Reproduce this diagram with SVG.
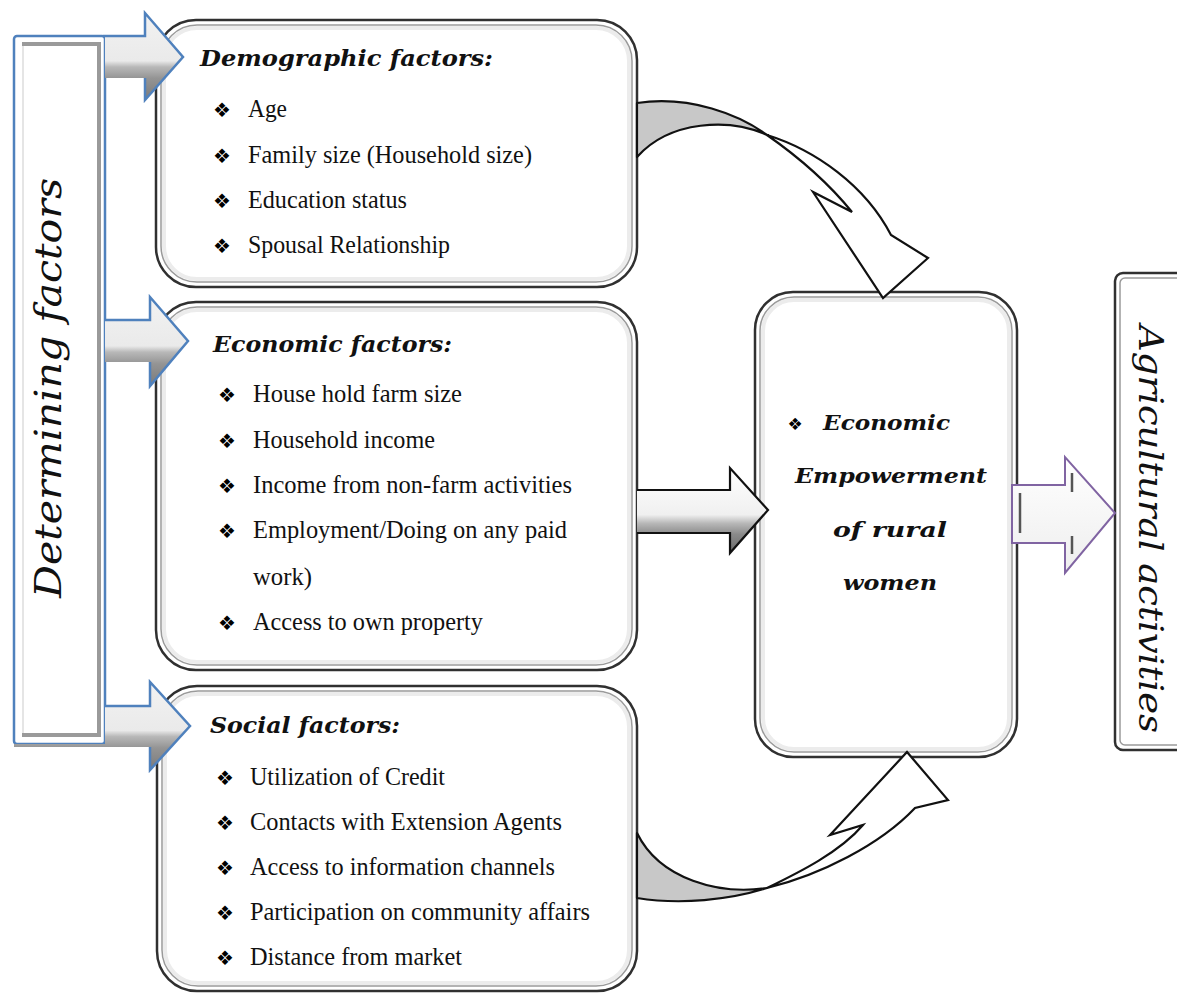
<svg xmlns="http://www.w3.org/2000/svg" width="1177" height="995" viewBox="0 0 1177 995">
<defs>
<style>
.box{fill:#fff;stroke:#303030;stroke-width:2.5}
.inner{fill:none;stroke:#9a9a9a;stroke-width:1.5}
.glow{fill:none;stroke:#ececec;stroke-width:4}
.item{font-family:"Liberation Serif",serif;font-size:25px;fill:#111}
.bul{font-family:"DejaVu Sans",sans-serif;font-size:20px;fill:#000;text-anchor:middle}
.head{font-family:"DejaVu Serif",serif;font-style:italic;font-weight:bold;font-size:23px;fill:#111}
.ctr{font-family:"DejaVu Serif",serif;font-style:italic;font-weight:bold;font-size:21px;fill:#111}
.blue{fill:none;stroke:#4f81bd;stroke-width:2.5;stroke-linejoin:miter}
</style>
<linearGradient id="gSilver" x1="0" y1="0" x2="0" y2="1">
<stop offset="0" stop-color="#f2f2f2"/>
<stop offset="0.55" stop-color="#eaeaea"/>
<stop offset="0.62" stop-color="#b8b8b8"/>
<stop offset="0.75" stop-color="#949494"/>
<stop offset="1" stop-color="#7a7a7a"/>
</linearGradient>
<linearGradient id="gGray" x1="0" y1="0" x2="0" y2="1">
<stop offset="0" stop-color="#ffffff"/>
<stop offset="0.55" stop-color="#f0f0f0"/>
<stop offset="0.65" stop-color="#b8b8b8"/>
<stop offset="0.78" stop-color="#8a8a8a"/>
<stop offset="1" stop-color="#6a6a6a"/>
</linearGradient>
<linearGradient id="gLight" x1="0" y1="0" x2="0" y2="1">
<stop offset="0" stop-color="#ffffff"/>
<stop offset="1" stop-color="#eeeeee"/>
</linearGradient>
</defs>
<rect width="1177" height="995" fill="#fff"/>

<g id="determining-factors">
<rect x="14" y="36" width="91" height="708" rx="3" fill="#fff" stroke="#4f81bd" stroke-width="2.5"/>
<path d="M22,44 H99 V735 H22" fill="none" stroke="#9a9a9a" stroke-width="4"/>
<line x1="23" y1="46" x2="23" y2="733" stroke="#dcdcdc" stroke-width="1.5"/>
<text transform="translate(61,388) rotate(-90)" text-anchor="middle" font-family="DejaVu Serif" font-style="italic" font-size="38" fill="#111" textLength="420" lengthAdjust="spacingAndGlyphs">Determining factors</text>
</g>

<g id="demographic-factors">
<rect class="box" x="156" y="20" width="481" height="267" rx="40"/>
<rect class="glow" x="164" y="28" width="465" height="251" rx="33"/>
<rect class="inner" x="161" y="25" width="471" height="257" rx="36"/>
<text class="head" x="200" y="66" textLength="293" lengthAdjust="spacingAndGlyphs">Demographic factors:</text>
<text class="bul" x="222" y="117">❖</text>
<text class="item" x="248" y="117" textLength="39" lengthAdjust="spacingAndGlyphs">Age</text>
<text class="bul" x="222" y="163">❖</text>
<text class="item" x="248" y="163" textLength="284" lengthAdjust="spacingAndGlyphs">Family size (Household size)</text>
<text class="bul" x="222" y="208">❖</text>
<text class="item" x="248" y="208" textLength="159" lengthAdjust="spacingAndGlyphs">Education status</text>
<text class="bul" x="222" y="253">❖</text>
<text class="item" x="248" y="253" textLength="202" lengthAdjust="spacingAndGlyphs">Spousal Relationship</text>
</g>

<g id="economic-factors">
<rect class="box" x="156" y="302" width="481" height="368" rx="40"/>
<rect class="glow" x="164" y="310" width="465" height="352" rx="33"/>
<rect class="inner" x="161" y="307" width="471" height="358" rx="36"/>
<text class="head" x="213" y="352" textLength="239" lengthAdjust="spacingAndGlyphs">Economic factors:</text>
<text class="bul" x="227" y="402">❖</text>
<text class="item" x="253" y="402" textLength="209" lengthAdjust="spacingAndGlyphs">House hold farm size</text>
<text class="bul" x="227" y="448">❖</text>
<text class="item" x="253" y="448" textLength="182" lengthAdjust="spacingAndGlyphs">Household income</text>
<text class="bul" x="227" y="493">❖</text>
<text class="item" x="253" y="493" textLength="319" lengthAdjust="spacingAndGlyphs">Income from non-farm activities</text>
<text class="bul" x="227" y="538">❖</text>
<text class="item" x="253" y="538" textLength="314" lengthAdjust="spacingAndGlyphs">Employment/Doing on any paid</text>
<text class="item" x="253" y="585" textLength="59" lengthAdjust="spacingAndGlyphs">work)</text>
<text class="bul" x="227" y="630">❖</text>
<text class="item" x="253" y="630" textLength="230" lengthAdjust="spacingAndGlyphs">Access to own property</text>
</g>

<g id="social-factors">
<rect class="box" x="157" y="686" width="480" height="305" rx="40"/>
<rect class="glow" x="165" y="694" width="464" height="289" rx="33"/>
<rect class="inner" x="162" y="691" width="470" height="295" rx="36"/>
<text class="head" x="210" y="733" textLength="190" lengthAdjust="spacingAndGlyphs">Social factors:</text>
<text class="bul" x="225" y="785">❖</text>
<text class="item" x="250" y="785" textLength="195" lengthAdjust="spacingAndGlyphs">Utilization of Credit</text>
<text class="bul" x="225" y="830">❖</text>
<text class="item" x="250" y="830" textLength="312" lengthAdjust="spacingAndGlyphs">Contacts with Extension Agents</text>
<text class="bul" x="225" y="875">❖</text>
<text class="item" x="250" y="875" textLength="305" lengthAdjust="spacingAndGlyphs">Access to information channels</text>
<text class="bul" x="225" y="920">❖</text>
<text class="item" x="250" y="920" textLength="340" lengthAdjust="spacingAndGlyphs">Participation on community affairs</text>
<text class="bul" x="225" y="965">❖</text>
<text class="item" x="250" y="965" textLength="212" lengthAdjust="spacingAndGlyphs">Distance from market</text>
</g>

<g id="economic-empowerment">
<rect class="box" x="755" y="292" width="262" height="465" rx="38"/>
<rect class="glow" x="763" y="300" width="246" height="449" rx="31"/>
<rect class="inner" x="760" y="297" width="252" height="455" rx="34"/>
<text class="bul" x="795" y="430" style="font-size:17px">❖</text>
<text class="ctr" x="823" y="430" textLength="127" lengthAdjust="spacingAndGlyphs">Economic</text>
<text class="ctr" x="795" y="483" textLength="192" lengthAdjust="spacingAndGlyphs">Empowerment</text>
<text class="ctr" x="833" y="537" textLength="114" lengthAdjust="spacingAndGlyphs">of rural</text>
<text class="ctr" x="843" y="590" textLength="94" lengthAdjust="spacingAndGlyphs">women</text>
</g>

<g id="agricultural-activities">
<rect x="1115" y="273" width="80" height="477" rx="8" fill="#fff" stroke="#303030" stroke-width="2.5"/>
<rect x="1120" y="278" width="70" height="467" rx="5" fill="none" stroke="#9a9a9a" stroke-width="1.5"/>
<text transform="translate(1139,529) rotate(90)" text-anchor="middle" font-family="DejaVu Serif" font-style="italic" font-size="34" fill="#111" textLength="408" lengthAdjust="spacingAndGlyphs">Agricultural activities</text>
</g>

<g id="connectors">
<path d="M105,36 H145 V13 L183,57 L145,100 V78 H105 Z" fill="url(#gSilver)"/>
<path class="blue" d="M103,36 H145 V13 L183,57 L145,100 V78"/>
<path d="M105,320 H150 V297 L188,341 L150,386 V362 H105 Z" fill="url(#gSilver)"/>
<path class="blue" d="M105,320 H150 V297 L188,341 L150,386 V362"/>
<path d="M105,706 H150 V682 L190,726 L150,770 V747 H14 V744 H105 Z" fill="url(#gSilver)"/>
<path class="blue" d="M105,706 H150 V682 L190,726 L150,770 V747"/>
<path d="M637,490 H730 V468 L768,510 L730,553 V533 H637 Z" fill="url(#gGray)"/>
<path d="M637,490 H730 V468 L768,510 L730,553 V533 H637" fill="none" stroke="#111" stroke-width="2.2"/>
<path d="M637,103 C690,95 740,115 767,135 C730,118 670,120 637,157 Z" fill="#c8c8c8" stroke="#111" stroke-width="2.2" stroke-linejoin="round"/>
<path d="M767,135 C815,150 865,185 891,235 L928,258 L883,298 L813,192 L852,212 C830,185 800,158 767,135 Z" fill="#fff" stroke="#111" stroke-width="2.2" stroke-linejoin="miter"/>
<path d="M637,833 C660,880 720,895 767,888 C730,900 680,905 637,898 Z" fill="#c8c8c8" stroke="#111" stroke-width="2.2" stroke-linejoin="round"/>
<path d="M767,888 C800,872 840,852 863,825 L830,835 L907,752 L948,800 L915,808 C880,845 820,875 767,888 Z" fill="#fff" stroke="#111" stroke-width="2.2" stroke-linejoin="miter"/>
<path d="M1012,485 H1065 V457 L1115,513 L1065,573 V543 H1012 Z" fill="url(#gLight)" stroke="#8064a2" stroke-width="2"/>
<line x1="1020" y1="493" x2="1020" y2="533" stroke="#555" stroke-width="2.5"/>
<line x1="1072" y1="473" x2="1072" y2="492" stroke="#555" stroke-width="2.5"/>
<line x1="1072" y1="536" x2="1072" y2="554" stroke="#555" stroke-width="2.5"/>
</g>
</svg>
